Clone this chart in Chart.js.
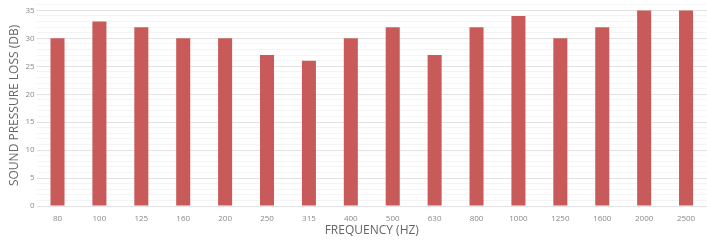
<!DOCTYPE html>
<html>
<head>
<meta charset="utf-8">
<script src="https://cdn.jsdelivr.net/npm/chart.js@4"></script>
<style>
  html, body { margin: 0; padding: 0; background: #fff; }
  #wrap { width: 707px; height: 240px; }
</style>
</head>
<body>
<div id="wrap"><canvas id="chart"></canvas></div>
<script>
var frequencies = ["80", "100", "125", "160", "200", "250", "315", "400", "500", "630", "800", "1000", "1250", "1600", "2000", "2500"];
var lossValues = [30, 33, 32, 30, 30, 27, 26, 30, 32, 27, 32, 34, 30, 32, 35, 35];
var yMin = 0;
var yMax = 36;
var yLabelStep = 5;

window.onload = function () {
    var ctx = document.getElementById("chart").getContext("2d");
    window.myBar = new Chart(ctx, {
        type: 'bar',
        data: {
            labels: frequencies,
            datasets: [{
                label: "Sound pressure loss",
                data: lossValues,
                backgroundColor: '#c85b59',
                borderWidth: 0,
                barPercentage: 0.335,
                categoryPercentage: 1.0
            }]
        },
        options: {
            responsive: true,
            maintainAspectRatio: false,
            animation: false,
            layout: { padding: { top: 2, right: 0, left: 7, bottom: 2 } },
            plugins: {
                legend: { display: false },
                tooltip: { enabled: false }
            },
            scales: {
                x: {
                    grid: { display: false },
                    border: { display: false },
                    ticks: { color: '#888', font: { family: 'Open Sans', size: 8 }, maxRotation: 0, padding: 0 },
                    title: { display: true, text: 'FREQUENCY (HZ)', color: '#666', font: { family: 'Open Sans', size: 12 }, padding: { top: 0, bottom: 0 } }
                },
                y: {
                    min: yMin,
                    max: yMax,
                    border: { display: false },
                    grid: {
                        drawTicks: false,
                        color: function (c) {
                            return c.tick.value % yLabelStep === 0 ? '#e2e2e2' : '#f4f4f4';
                        }
                    },
                    ticks: {
                        stepSize: 1,
                        autoSkip: false,
                        padding: 2,
                        color: '#888',
                        font: { family: 'Open Sans', size: 8, lineHeight: 0.7 },
                        callback: function (v) { return v % yLabelStep === 0 ? v : ''; }
                    },
                    title: { display: true, text: 'SOUND PRESSURE LOSS (DB)', color: '#666', font: { family: 'Open Sans', size: 12 }, padding: { top: 0, bottom: 2 } }
                }
            }
        }
    });
};
</script>
</body>
</html>
